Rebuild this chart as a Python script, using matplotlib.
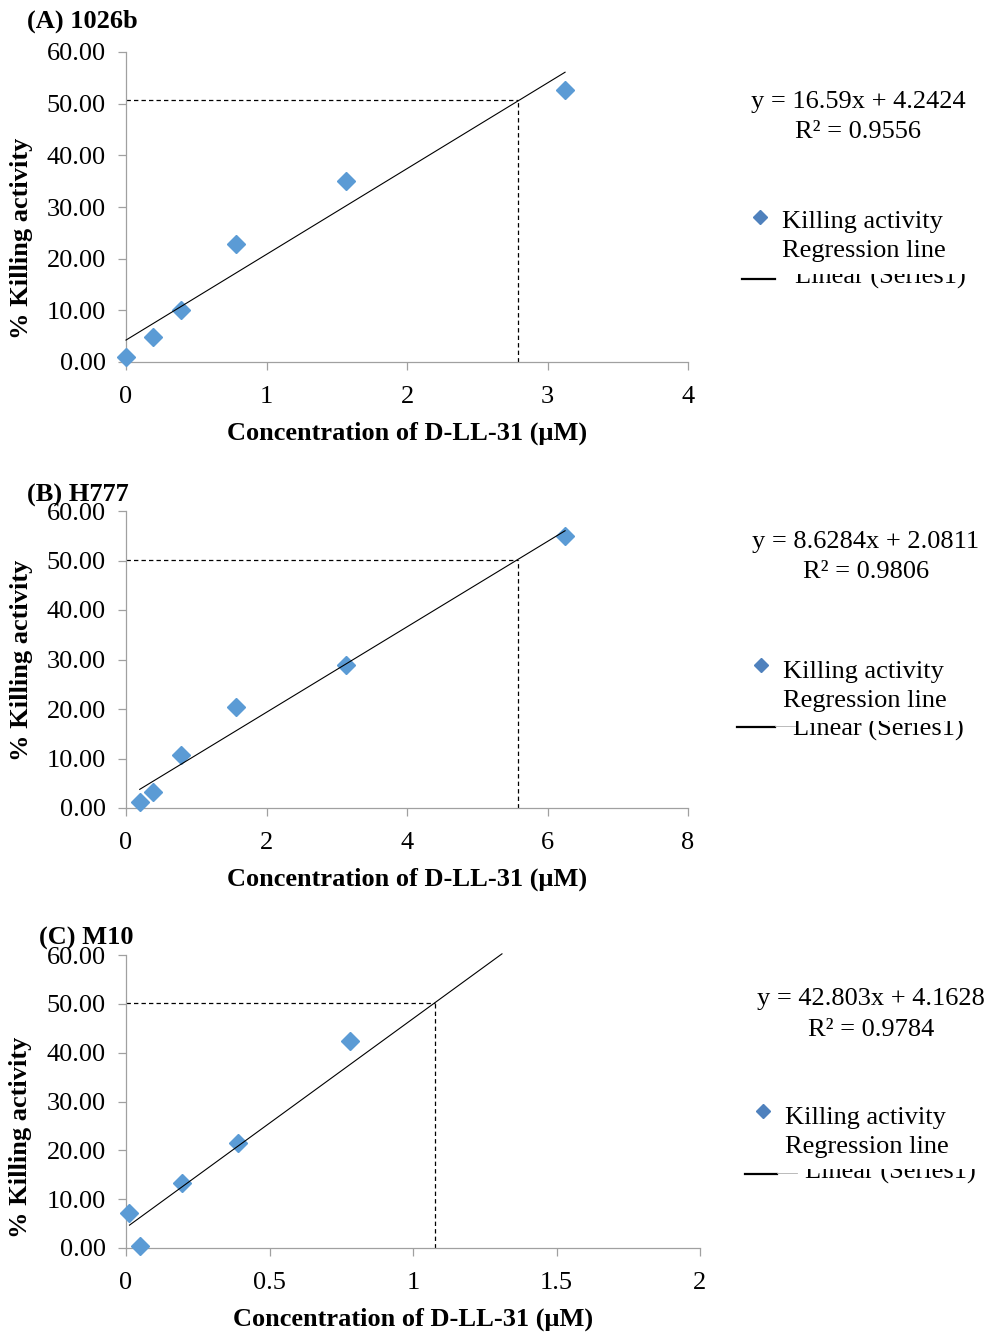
import matplotlib
matplotlib.use("Agg")
import matplotlib.pyplot as plt
from matplotlib.lines import Line2D
from matplotlib.transforms import Bbox
from matplotlib.ticker import FormatStrFormatter

plt.rcParams['font.family'] = ['Liberation Serif', 'DejaVu Serif']
FS = 19

W, H = 989, 1336

# ---------------- data ----------------
titles = ["(A) 1026b", "(B) H777", "(C) M10"]

conc_a = [0.0, 0.195, 0.39, 0.78, 1.5625, 3.125]
kill_a = [0.9, 4.8, 10.1, 22.8, 35.0, 52.7]

conc_b = [0.195, 0.39, 0.78, 1.5625, 3.125, 6.25]
kill_b = [1.2, 3.3, 10.7, 20.4, 28.9, 55.0]

conc_c = [0.012, 0.049, 0.195, 0.39, 0.78]
kill_c = [7.1, 0.4, 13.3, 21.6, 42.3]

slopes = [16.59, 8.6284, 42.803]
intercepts = [4.2424, 2.0811, 4.1628]
r2 = ["0.9556", "0.9806", "0.9784"]
eq_texts = ["y = 16.59x + 4.2424", "y = 8.6284x + 2.0811", "y = 42.803x + 4.1628"]
fit_range = [(0.0, 3.125), (0.195, 6.25), (0.0122, 1.31)]

ic50_x = [2.79, 5.58, 1.075]
ic50_y = [50.7, 50.2, 50.2]

xticks_a = [0, 1, 2, 3, 4]
xticks_b = [0, 2, 4, 6, 8]
xticks_c = [0, 0.5, 1, 1.5, 2]
xticklabels_c = ["0", "0.5", "1", "1.5", "2"]
yticks = [0, 10, 20, 30, 40, 50, 60]

legend_labels = ["Killing activity", "Regression line", "Linear (Series1)"]
xlabel = "Concentration of D-LL-31 (\u03bcM)"
ylabel = "% Killing activity"

# ---------------- layout (pixels) ----------------
axes_px = [(126, 52, 688, 362), (126, 511, 688, 808), (126, 955, 700, 1248)]
xlims = [(0, 4), (0, 8), (0, 2)]

fig = plt.figure(figsize=(W / 100, H / 100), dpi=100)


def fx(x):
    return x / W


def fy(y):
    return 1 - y / H


SPINE = '#A0A0A0'
PT_COLOR = '#5B9BD5'
LEG_COLOR = '#4F81BD'

concs = [conc_a, conc_b, conc_c]
kills = [kill_a, kill_b, kill_c]
xtick_sets = [(xticks_a, None), (xticks_b, None), (xticks_c, xticklabels_c)]

title_pos = [(27, 28), (27, 502), (39, 945)]
ylab_pos = [(22, 238), (22, 660), (21, 1137)]
eq_pos = [(858, 108, 138), (866, 548, 578), (871, 1005, 1036)]
# legend: diamond (x,y), text x, baselines, line y, line x0,x1, linear x, clip y
leg = [
    dict(d=(760, 217), tx=782, b=(228, 257, 284), ly=279, lx=(742, 775), linx=795, clip=274, gray=False),
    dict(d=(761, 665), tx=783, b=(678, 707, 736), ly=727, lx=(737, 775), linx=793, clip=721, gray=True),
    dict(d=(763, 1111), tx=785, b=(1124, 1153, 1179), ly=1174, lx=(745, 777), linx=805, clip=1169, gray=True),
]

for i in range(3):
    l, t, r, b = axes_px[i]
    ax = fig.add_axes([fx(l), fy(b), (r - l) / W, (b - t) / H])
    ax.set_xlim(*xlims[i])
    ax.set_ylim(0, 60)
    for s in ['top', 'right']:
        ax.spines[s].set_visible(False)
    for s in ['left', 'bottom']:
        ax.spines[s].set_color(SPINE)
        ax.spines[s].set_linewidth(0.9)
    ax.set_yticks(yticks)
    ax.yaxis.set_major_formatter(FormatStrFormatter('%.2f'))
    xt, xtl = xtick_sets[i]
    ax.set_xticks(xt)
    if xtl is not None:
        ax.set_xticklabels(xtl)
    ax.tick_params(axis='both', direction='out', length=5.5, width=0.9, color=SPINE,
                   labelsize=FS, labelcolor='black')
    ax.tick_params(axis='y', pad=9)
    ax.tick_params(axis='x', pad=12)

    # dashed IC50 guide lines
    ax.plot([0, ic50_x[i]], [ic50_y[i], ic50_y[i]], color='black', lw=0.9,
            linestyle=(0, (3.5, 2.5)), zorder=2)
    ax.plot([ic50_x[i], ic50_x[i]], [0, ic50_y[i]], color='black', lw=0.9,
            linestyle=(0, (3.5, 2.5)), zorder=2)

    # data points
    ax.plot(concs[i], kills[i], linestyle='none', marker='D', ms=9.5, color=PT_COLOR,
            mec=PT_COLOR, clip_on=False, zorder=3)

    # regression line
    x0, x1 = fit_range[i]
    ax.plot([x0, x1], [slopes[i] * x0 + intercepts[i], slopes[i] * x1 + intercepts[i]],
            color='black', lw=0.8, zorder=4, clip_on=False)

    # x label
    ax.set_xlabel(xlabel, fontsize=FS, fontweight='bold')
    ax.xaxis.set_label_coords(0.5, -(75 - 15) / (b - t))

    # title
    fig.text(fx(title_pos[i][0]), fy(title_pos[i][1]), titles[i], fontsize=FS,
             fontweight='bold', ha='left', va='baseline')
    # y label
    fig.text(fx(ylab_pos[i][0]), fy(ylab_pos[i][1]), ylabel, fontsize=FS, fontweight='bold',
             rotation=90, ha='center', va='center')

    # equation
    ex, e1, e2 = eq_pos[i]
    fig.text(fx(ex), fy(e1), eq_texts[i], fontsize=FS, ha='center', va='baseline')
    fig.text(fx(ex), fy(e2), "R\u00b2 = " + r2[i], fontsize=FS, ha='center', va='baseline')

    # legend
    L = leg[i]
    fig.add_artist(Line2D([fx(L['d'][0])], [fy(L['d'][1])], marker='D', ms=7,
                          color=LEG_COLOR, linestyle='none', transform=fig.transFigure))
    fig.text(fx(L['tx']), fy(L['b'][0]), legend_labels[0], fontsize=FS, ha='left', va='baseline')
    fig.text(fx(L['tx']), fy(L['b'][1]), legend_labels[1], fontsize=FS, ha='left', va='baseline')
    lin = fig.text(fx(L['linx']), fy(L['b'][2]), legend_labels[2], fontsize=FS,
                   ha='left', va='baseline')
    lin.set_clip_box(Bbox.from_extents(0, 0, W, H - L['clip']))
    lin.set_clip_on(True)
    fig.add_artist(Line2D([fx(L['lx'][0]), fx(L['lx'][1])], [fy(L['ly']), fy(L['ly'])],
                          color='black', lw=1.6, transform=fig.transFigure))
    if L['gray']:
        fig.add_artist(Line2D([fx(L['lx'][1]), fx(L['lx'][1] + 20)],
                              [fy(L['ly'] - 1.5), fy(L['ly'] - 1.5)],
                              color='#B0B0B0', lw=0.6, transform=fig.transFigure))

fig.savefig("out.png", dpi=100)
